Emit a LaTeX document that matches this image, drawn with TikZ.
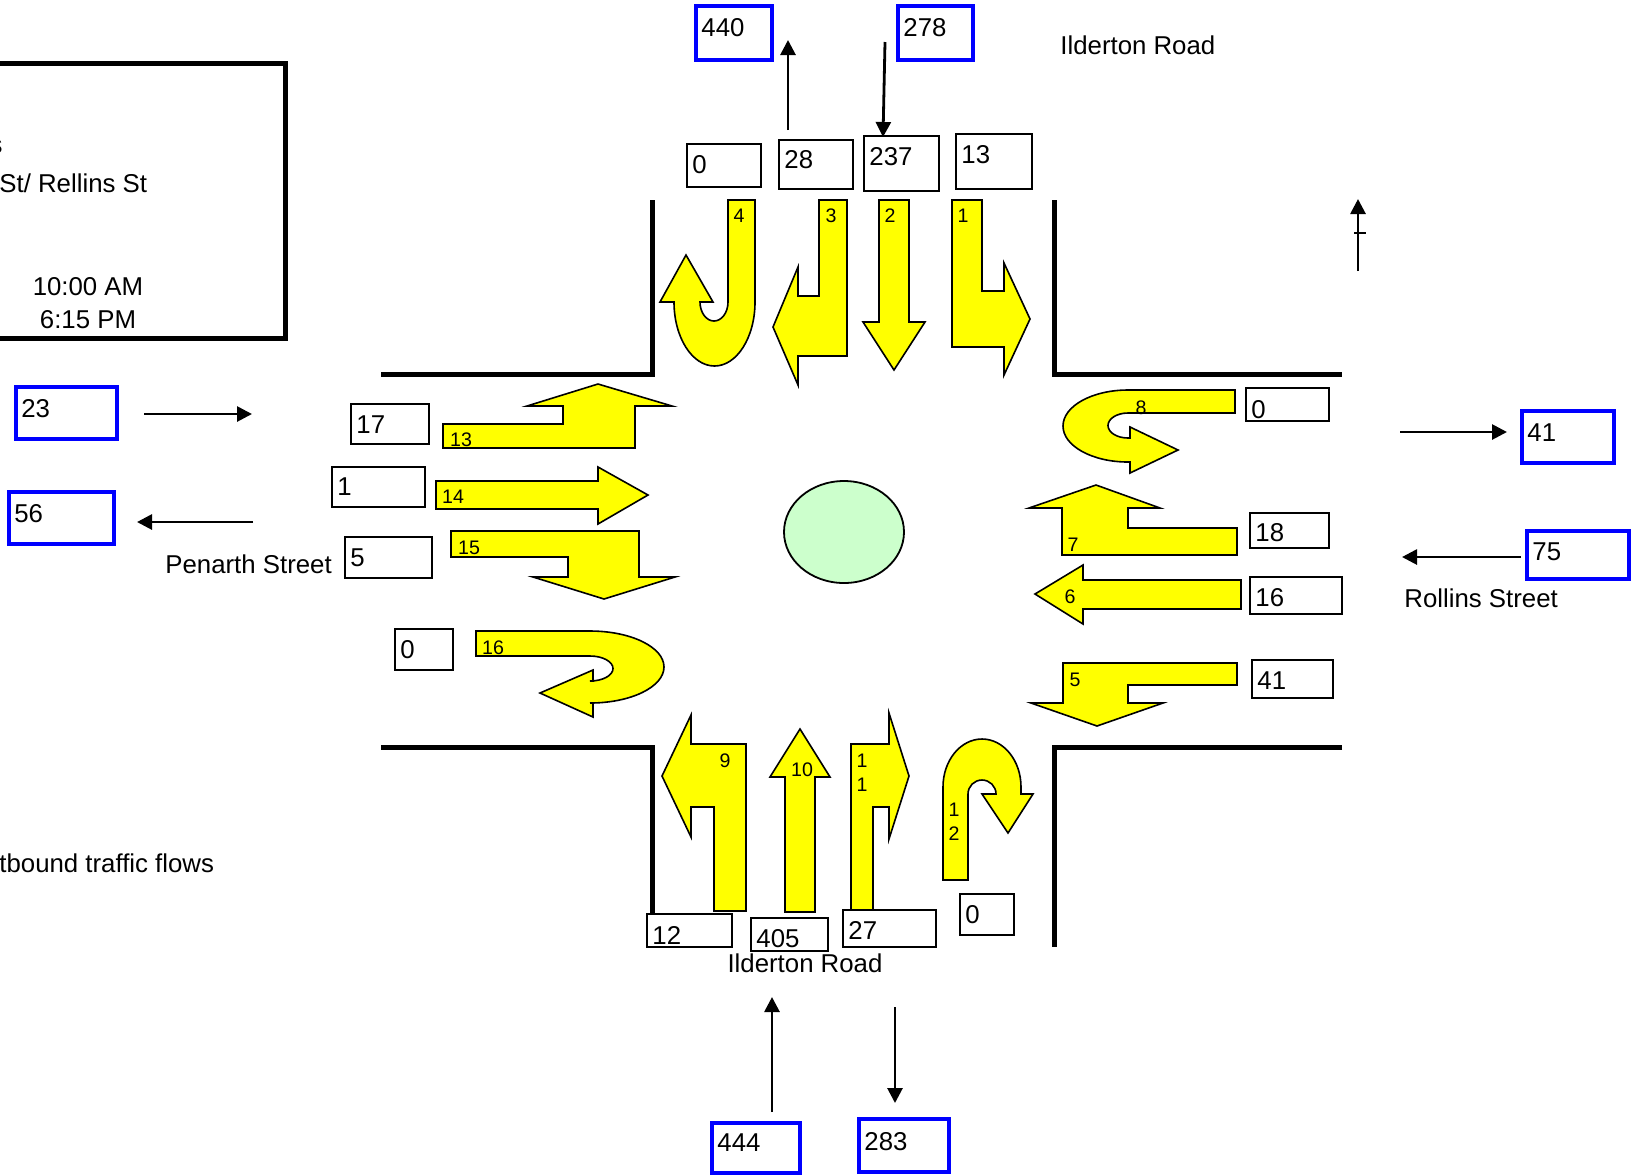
\documentclass[tikz,border=0pt]{standalone}
\usepackage{fontspec}
\setmainfont{Liberation Sans}
\usetikzlibrary{arrows.meta}
\definecolor{island}{RGB}{204,255,204}
\definecolor{lanefill}{RGB}{255,255,0}
\definecolor{linkblue}{RGB}{0,0,255}
\def\countbox[#1]#2(#3,#4)(#5,#6)#7#8{\draw[#1] (#3,#4) rectangle (#5,#6); \node[cnt] (#2) at (#3+5,#7) {#8};}

\begin{document}
\begin{tikzpicture}[x=0.5pt,y=-0.5pt,
		font=\fontsize{12.9}{15}\selectfont,
		road/.style={line width=2.5pt},
		lane/.style={draw=black,line width=0.8pt,fill=lanefill},
		lbl/.style={font=\fontsize{9.8}{12}\selectfont,inner sep=0pt,align=center},
		cnt/.style={anchor=west,inner sep=0pt},
		cbox/.style={line width=1pt},
		vbox/.style={line width=2pt,draw=linkblue},
		flow/.style={line width=1.4pt,-{Triangle[length=7.5pt,width=7.5pt]}},
		txt/.style={inner sep=0pt}]
		%%%%% START %%%%%
		\useasboundingbox (0,0) rectangle (1638,1175);
		
		\draw[line width=2.5pt] (-10,63) -- (285,63) -- (285,338) -- (-10,338);
		\node[txt,anchor=east] (tInfo0) at (3,147) {s};
		\node[txt,anchor=west] (tInfo1) at (-1,183) {St/ Rellins St};
		\node[txt] (tInfo2) at (88,287) {10:00 AM};
		\node[txt] (tInfo3) at (88,320) {6:15 PM};
		\node[txt,anchor=west] (tFlows) at (-1,863) {tbound traffic flows};
		
		\draw[road] (381,374) -- (652,374) -- (652,200);
		\draw[road] (1054,200) -- (1054,374) -- (1342,374);
		\draw[road] (381,747) -- (652,747) -- (652,913);
		\draw[road] (1342,747) -- (1054,747) -- (1054,947);
		
		\draw[line width=0.9pt,fill=island] (844,532) ellipse [x radius=60,y radius=51];
		
		% north approach
		\draw[lane] (728,200) -- (755,200) -- (755,302) arc[start angle=0,end angle=180,x radius=40.5,y radius=64] -- (660,302) -- (686,255) -- (713,302) -- (700,302) arc[start angle=180,end angle=0,x radius=14,y radius=19] -- cycle;
		\draw[lane] (819,200) -- (847,200) -- (847,356) -- (798,356) -- (798,385) -- (773,327) -- (798,267) -- (798,296) -- (819,296) -- cycle;
		\draw[lane] (879,200) -- (909,200) -- (909,322) -- (925,322) -- (894,370) -- (863,322) -- (879,322) -- cycle;
		\draw[lane] (952,200) -- (982,200) -- (982,291) -- (1004,291) -- (1004,263) -- (1030,319) -- (1004,375) -- (1004,347) -- (952,347) -- cycle;
		\node[lbl] (l4) at (739,216) {4};
		\node[lbl] (l3) at (831,216) {3};
		\node[lbl] (l2) at (890,216) {2};
		\node[lbl] (l1) at (963,216) {1};
		
		% west approach
		\draw[lane] (443,424) -- (563,424) -- (563,406) -- (527,406) -- (598,384) -- (672,406) -- (635,406) -- (635,448) -- (443,448) -- cycle;
		\draw[lane] (436,481) -- (598,481) -- (598,467) -- (648,495) -- (598,524) -- (598,509) -- (436,509) -- cycle;
		\draw[lane] (451,531) -- (639,531) -- (639,577) -- (675,577) -- (604,599) -- (533,577) -- (568,577) -- (568,557) -- (451,557) -- cycle;
		\draw[lane] (476,631) -- (590,631) arc[start angle=-90,end angle=90,x radius=74,y radius=36] -- (593,703) -- (593,717) -- (540,693) -- (593,670) -- (593,681) -- (590,681) arc[start angle=90,end angle=-90,x radius=23,y radius=12.5] -- (476,656) -- cycle;
		\node[lbl] (l13) at (461,440) {13};
		\node[lbl] (l14) at (453,497) {14};
		\node[lbl] (l15) at (469,548) {15};
		\node[lbl] (l16) at (493,648) {16};
		
		% east approach
		\draw[lane] (1235,390) -- (1128,390) arc[start angle=-90,end angle=-270,x radius=65,y radius=36] -- (1130,462) -- (1130,473) -- (1178,450) -- (1130,427) -- (1130,438) -- (1128,438) arc[start angle=90,end angle=270,x radius=20,y radius=12.5] -- (1235,413) -- cycle;
		\draw[lane] (1237,528) -- (1128,528) -- (1128,508) -- (1160,508) -- (1096,485) -- (1029,508) -- (1062,508) -- (1062,555) -- (1237,555) -- cycle;
		\draw[lane] (1241,580) -- (1083,580) -- (1083,565) -- (1035,594) -- (1083,624) -- (1083,609) -- (1241,609) -- cycle;
		\draw[lane] (1237,663) -- (1063,663) -- (1063,703) -- (1031,703) -- (1097,726) -- (1163,703) -- (1128,703) -- (1128,685) -- (1237,685) -- cycle;
		\node[lbl] (l8) at (1141,408) {8};
		\node[lbl] (l7) at (1073,545) {7};
		\node[lbl] (l6) at (1070,597) {6};
		\node[lbl] (l5) at (1075,680) {5};
		
		% south approach
		\draw[lane] (714,911) -- (746,911) -- (746,744) -- (691,744) -- (691,715) -- (662,776) -- (691,837) -- (691,807) -- (714,807) -- cycle;
		\draw[lane] (785,912) -- (815,912) -- (815,777) -- (830,777) -- (800,729) -- (770,777) -- (785,777) -- cycle;
		\draw[lane] (851,910) -- (873,910) -- (873,807) -- (889,807) -- (889,839) -- (909,776) -- (889,713) -- (889,744) -- (851,744) -- cycle;
		\draw[lane] (943,880) -- (943,787) arc[start angle=180,end angle=360,x radius=39,y radius=48] -- (1021,794) -- (1033,794) -- (1008,833) -- (982,794) -- (996,794) arc[start angle=0,end angle=-180,x radius=14,y radius=14] -- (968,880) -- cycle;
		\node[lbl] (l9) at (725,761) {9};
		\node[lbl] (l10) at (802,770) {10};
		\node[lbl] (l11) at (862,773) {1\\1};
		\node[lbl] (l12) at (954,822) {1\\2};
		
		% turning counts
		\countbox[cbox]{cN4}(687,144)(761,187){165}{0}
		\countbox[cbox]{cN3}(779,140)(853,189){160}{28}
		\countbox[cbox]{cN2}(864,136)(939,191){157}{237}
		\countbox[cbox]{cN1}(956,134)(1032,189){155}{13}
		\countbox[cbox]{cW13}(351,404)(429,444){425}{17}
		\countbox[cbox]{cW14}(332,467)(425,507){487}{1}
		\countbox[cbox]{cW15}(345,537)(432,578){558}{5}
		\countbox[cbox]{cW16}(395,629)(453,670){650}{0}
		\countbox[cbox]{cE8}(1246,388)(1329,421){410}{0}
		\countbox[cbox]{cE7}(1250,513)(1329,548){533}{18}
		\countbox[cbox]{cE6}(1250,577)(1342,614){598}{16}
		\countbox[cbox]{cE5}(1252,660)(1333,698){681}{41}
		\countbox[cbox]{cS9}(647,914)(732,947){935}{12}
		\countbox[cbox]{cS10}(751,918)(828,951){939}{405}
		\countbox[cbox]{cS11}(843,910)(936,947){930}{27}
		\countbox[cbox]{cS12}(960,894)(1014,935){915}{0}
		
		% link totals
		\countbox[vbox]{vNout}(696,6)(772,60){28}{440}
		\countbox[vbox]{vNin}(898,6)(973,60){28}{278}
		\countbox[vbox]{vWin}(16,387)(117,439){409}{23}
		\countbox[vbox]{vWout}(9,492)(114,544){514}{56}
		\countbox[vbox]{vEout}(1522,411)(1614,463){433}{41}
		\countbox[vbox]{vEin}(1527,531)(1629,579){552}{75}
		\countbox[vbox]{vSin}(712,1123)(800,1173){1143}{444}
		\countbox[vbox]{vSout}(859,1119)(949,1172){1142}{283}
		
		\coordinate (fNo0) at (788,130); \coordinate (fNo1) at (788,40);
		\coordinate (fNi0) at (885,42); \coordinate (fNi1) at (883,137);
		\coordinate (fWi0) at (144,414); \coordinate (fWi1) at (252,414);
		\coordinate (fWo0) at (253,522); \coordinate (fWo1) at (137,522);
		\coordinate (fEo0) at (1400,432); \coordinate (fEo1) at (1507,432);
		\coordinate (fEi0) at (1521,557); \coordinate (fEi1) at (1402,557);
		\coordinate (fSi0) at (772,1112); \coordinate (fSi1) at (772,997);
		\coordinate (fSo0) at (895,1007); \coordinate (fSo1) at (895,1103);
		\draw[flow] (fNo0) -- (fNo1);
		\draw[flow] (fNi0) -- (fNi1);
		\draw[flow] (fWi0) -- (fWi1);
		\draw[flow] (fWo0) -- (fWo1);
		\draw[flow] (fEo0) -- (fEo1);
		\draw[flow] (fEi0) -- (fEi1);
		\draw[flow] (fSi0) -- (fSi1);
		\draw[flow] (fSo0) -- (fSo1);
		
		\coordinate (north0) at (1358,271); \coordinate (north1) at (1358,199);
		\draw[flow] (north0) -- (north1);
		\draw[line width=1.2pt] (1354,233) -- (1366,233);
		
		\node[txt,anchor=west] (tIldN) at (1060,45) {Ilderton Road};
		\node[txt] (tIldS) at (805,963) {Ilderton Road};
		\node[txt,anchor=west] (tPen) at (165,564) {Penarth Street};
		\node[txt,anchor=west] (tRol) at (1404,598) {Rollins Street};
		
		%%%%% END %%%%%
	\end{tikzpicture}
\end{document}
